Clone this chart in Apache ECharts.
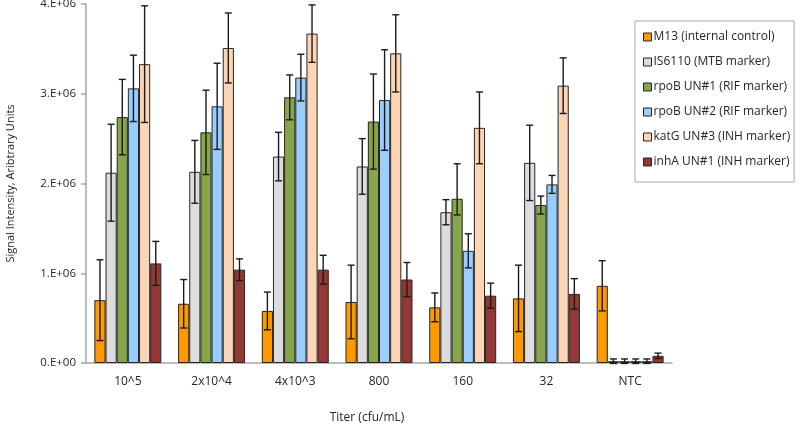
<!DOCTYPE html>
<html><head><meta charset="utf-8">
<script src="https://cdn.jsdelivr.net/npm/echarts@6/dist/echarts.min.js"></script>
<style>html,body{margin:0;padding:0;background:#fff}#c{width:800px;height:427px}</style>
</head><body><div id="c"></div>
<script>
// Categories (titer)
const categories = ['10^5', '2x10^4', '4x10^3', '800', '160', '32', 'NTC'];
const seriesNames = ['M13 (internal control)', 'IS6110 (MTB marker)', 'rpoB UN#1 (RIF marker)', 'rpoB UN#2 (RIF marker)', 'katG UN#3 (INH marker)', 'inhA UN#1 (INH marker)'];
const seriesColors = ['#FF9900', '#DDDDDD', '#87A54A', '#99CCFF', '#FCD5B5', '#953735'];
const yTickLabels = ['0.E+00', '1.E+06', '2.E+06', '3.E+06', '4.E+06'];

// Mean values (millions of arbitrary units)
const m13    = [0.70, 0.66, 0.58, 0.68, 0.62, 0.72, 0.86];
const is6110 = [2.12, 2.13, 2.30, 2.19, 1.68, 2.23, 0.02];
const rpoB1  = [2.74, 2.57, 2.96, 2.69, 1.83, 1.76, 0.02];
const rpoB2  = [3.06, 2.86, 3.18, 2.93, 1.25, 1.99, 0.02];
const katG   = [3.33, 3.51, 3.67, 3.45, 2.62, 3.09, 0.02];
const inhA   = [1.11, 1.04, 1.04, 0.93, 0.75, 0.77, 0.08];

// Error bar half-widths (millions); [minus, plus] where asymmetric
const m13Err    = [0.45, 0.27, 0.21, 0.41, 0.16, 0.37, 0.28];
const is6110Err = [0.54, 0.35, 0.27, 0.31, 0.14, 0.42, 0.025];
const rpoB1Err  = [0.42, 0.47, 0.25, 0.53, [0.18, 0.39], 0.10, 0.025];
const rpoB2Err  = [0.37, 0.48, 0.26, 0.56, 0.19, 0.10, 0.025];
const katGErr   = [0.65, 0.39, 0.32, 0.43, 0.40, 0.31, 0.025];
const inhAErr   = [0.245, 0.12, 0.16, 0.19, 0.14, 0.17, 0.03];

const UNIT = 1e6;
const allValues = [m13, is6110, rpoB1, rpoB2, katG, inhA];
const allErrors = [m13Err, is6110Err, rpoB1Err, rpoB2Err, katGErr, inhAErr];
const nSeries = allValues.length;
const catGap = 0.2;

const chart = echarts.init(document.getElementById('c'));
const FONT = 'Open Sans';

const series = [];
allValues.forEach((vals, i) => {
  series.push({
    name: seriesNames[i],
    type: 'bar',
    data: vals.map(v => v * UNIT),
    barGap: '0%',
    barCategoryGap: (catGap * 100) + '%',
    itemStyle: { color: seriesColors[i], borderColor: '#262626', borderWidth: 1 },
    z: 2
  });
});
allValues.forEach((vals, i) => {
  const errs = allErrors[i];
  series.push({
    type: 'custom',
    name: seriesNames[i] + ' err',
    z: 5,
    silent: true,
    data: vals.map((v, j) => {
      const e = errs[j];
      const lo = Array.isArray(e) ? e[0] : e;
      const hi = Array.isArray(e) ? e[1] : e;
      return [j, (v - lo) * UNIT, (v + hi) * UNIT];
    }),
    encode: { x: 0, y: [1, 2] },
    renderItem: function (params, api) {
      const idx = api.value(0);
      const band = api.size([1, 0])[0];
      const barW = band * (1 - catGap) / nSeries;
      const off = -band * (1 - catGap) / 2 + barW * (i + 0.5);
      const pLo = api.coord([idx, api.value(1)]);
      const pHi = api.coord([idx, api.value(2)]);
      const x = pLo[0] + off;
      const cap = 3.5;
      const st = { stroke: '#1a1a1a', lineWidth: 1.4 };
      return {
        type: 'group',
        children: [
          { type: 'line', shape: { x1: x, y1: pLo[1], x2: x, y2: pHi[1] }, style: st },
          { type: 'line', shape: { x1: x - cap, y1: pLo[1], x2: x + cap, y2: pLo[1] }, style: st },
          { type: 'line', shape: { x1: x - cap, y1: pHi[1], x2: x + cap, y2: pHi[1] }, style: st }
        ]
      };
    }
  });
});

chart.setOption({
  animation: false,
  backgroundColor: '#ffffff',
  textStyle: { fontFamily: FONT },
  grid: { left: 86, top: 4, right: 128, bottom: 64, containLabel: false, outerBoundsMode: 'none' },
  legend: {
    data: seriesNames,
    orient: 'vertical',
    left: 635,
    top: 21,
    padding: [10, 4, 14, 8],
    itemGap: 13,
    itemWidth: 8,
    itemHeight: 8,
    icon: 'rect',
    borderColor: '#A6A6A6',
    borderWidth: 1,
    textStyle: { fontFamily: FONT, fontSize: 12, color: '#262626', padding: [0, 0, 0, -3] },
    itemStyle: { borderColor: '#262626', borderWidth: 1 }
  },
  xAxis: {
    type: 'category',
    data: categories,
    name: 'Titer (cfu/mL)',
    nameLocation: 'middle',
    nameGap: 49,
    nameTextStyle: { fontFamily: FONT, fontSize: 12, color: '#262626', padding: [0, 24, 0, 0] },
    axisLine: { lineStyle: { color: '#A6A6A6', width: 1.5 } },
    axisTick: { show: false },
    axisLabel: { fontFamily: FONT, fontSize: 12, color: '#262626', margin: 13 },
    splitLine: { show: false }
  },
  yAxis: {
    type: 'value',
    min: 0,
    max: 4 * UNIT,
    interval: UNIT,
    name: 'Signal Intensity, Aribtrary Units',
    nameLocation: 'middle',
    nameGap: 70,
    nameRotate: 90,
    nameTextStyle: { fontFamily: FONT, fontSize: 11, color: '#262626' },
    axisLine: { show: true, lineStyle: { color: '#A6A6A6', width: 1.5 } },
    axisTick: { show: true, length: 5, lineStyle: { color: '#A6A6A6', width: 1.5 } },
    axisLabel: {
      fontFamily: FONT, fontSize: 11.5, color: '#262626', margin: 10,
      formatter: v => yTickLabels[Math.round(v / UNIT)]
    },
    splitLine: { show: false }
  },
  series: series
});
</script>
</body></html>
